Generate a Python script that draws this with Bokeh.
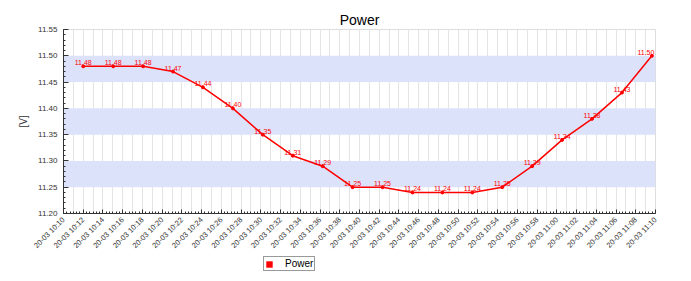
from datetime import datetime
import math
from bokeh.plotting import figure
from bokeh.layouts import column
from bokeh.models import (Range1d, FixedTicker, DatetimeTickFormatter, NumeralTickFormatter,
                          SingleIntervalTicker, ColumnDataSource, Legend, LegendItem,
                          BoxAnnotation, LabelSet)
from bokeh.core.properties import value
from bokeh.embed import file_html
from bokeh.resources import INLINE

# ---- data ----
times = ["10:12:00", "10:15:02", "10:18:04", "10:21:06", "10:24:08", "10:27:10",
         "10:30:12", "10:33:14", "10:36:16", "10:39:18", "10:42:20", "10:45:22",
         "10:48:24", "10:51:26", "10:54:28", "10:57:30", "11:00:32", "11:03:34",
         "11:06:36", "11:09:38"]
volts = [11.48, 11.48, 11.48, 11.47, 11.44, 11.40, 11.35, 11.31, 11.29, 11.25,
         11.25, 11.24, 11.24, 11.24, 11.25, 11.29, 11.34, 11.38, 11.43, 11.50]
tick_times = ["10:10", "10:12", "10:14", "10:16", "10:18", "10:20", "10:22", "10:24",
              "10:26", "10:28", "10:30", "10:32", "10:34", "10:36", "10:38", "10:40",
              "10:42", "10:44", "10:46", "10:48", "10:50", "10:52", "10:54", "10:56",
              "10:58", "11:00", "11:02", "11:04", "11:06", "11:08", "11:10"]
y_min, y_max = 11.20, 11.55
bands = [(11.25, 11.30), (11.35, 11.40), (11.45, 11.50)]
series_name = "Power"
title_text = "Power"
y_label = "[V]"

FONT = "Liberation Sans"
EPOCH = datetime(1970, 1, 1)


def to_dt(t):
    parts = [int(x) for x in t.split(":")]
    while len(parts) < 3:
        parts.append(0)
    return datetime(2020, 3, 20, parts[0], parts[1], parts[2])


def ms(d):
    return (d - EPOCH).total_seconds() * 1000.0


xs = [to_dt(t) for t in times]
major = [ms(to_dt(t)) for t in tick_times]
x0, x1 = major[0], major[-1]
minute_ticks = [x0 + i * 60000 for i in range(int((x1 - x0) / 60000) + 1)]
minor_ticks = [x0 + i * 20000 for i in range(int((x1 - x0) / 20000) + 1)]

p = figure(width=691, height=256, output_backend="svg", toolbar_location=None,
           x_axis_type="datetime",
           x_range=Range1d(x0, x1), y_range=Range1d(y_min, y_max),
           min_border_left=63, min_border_right=36, min_border_top=29,
           min_border_bottom=41)
p.title.text = title_text
p.title.align = "center"
p.title.text_font = FONT
p.title.text_font_size = "14px"
p.title.text_font_style = "normal"
p.title.text_color = "#000000"
p.title.standoff = 4
p.outline_line_color = "#dddddd"
p.background_fill_color = "white"
p.border_fill_color = "white"

for lo, hi in bands:
    p.add_layout(BoxAnnotation(bottom=lo, top=hi, fill_color="#dde2fb",
                               fill_alpha=1.0, line_color=None, level="underlay"))

# axes
xa = p.xaxis[0]
xa.ticker = FixedTicker(ticks=major, minor_ticks=minor_ticks)
fmt = "%d-%m %H:%M"
xa.formatter = DatetimeTickFormatter(seconds=fmt, minsec=fmt, minutes=fmt, hourmin=fmt,
                                     hours=fmt, days=fmt, months=fmt, years=fmt)
xa.major_label_orientation = math.pi / 4
xa.major_label_text_font = FONT
xa.major_label_text_font_size = "7.5px"
xa.major_label_text_color = "#333333"
xa.axis_line_color = "#333333"
xa.major_tick_line_color = "#333333"
xa.minor_tick_line_color = "#333333"
xa.major_tick_in = 4
xa.major_tick_out = 0
xa.minor_tick_in = 2
xa.minor_tick_out = 0
xa.major_label_standoff = 5

ya = p.yaxis[0]
ya.ticker = SingleIntervalTicker(interval=0.05, num_minor_ticks=5)
ya.formatter = NumeralTickFormatter(format="0.00")
ya.axis_label = y_label
ya.axis_label_text_font = FONT
ya.axis_label_text_font_size = "10px"
ya.axis_label_text_font_style = "normal"
ya.axis_label_text_color = "#333333"
ya.major_label_text_font = FONT
ya.major_label_text_font_size = "8px"
ya.major_label_text_color = "#333333"
ya.axis_line_color = "#333333"
ya.major_tick_line_color = "#333333"
ya.minor_tick_line_color = "#333333"
ya.major_tick_in = 5
ya.major_tick_out = 0
ya.minor_tick_in = 2
ya.minor_tick_out = 0
ya.major_label_standoff = 6
ya.axis_label_standoff = 6

p.xgrid.ticker = FixedTicker(ticks=minute_ticks)
p.xgrid.grid_line_color = "#e4e4e4"
p.xgrid.grid_line_width = 1
p.ygrid.grid_line_color = None

# label offsets keep the last label inside the plot frame
x_off = [0] * len(volts)
x_off[-1] = -6
src = ColumnDataSource(dict(x=xs, y=volts, lbl=[f"{v:.2f}" for v in volts], xo=x_off))
p.line("x", "y", source=src, line_color="#ff0000", line_width=1.5)
p.scatter("x", "y", source=src, size=3, color="#ff0000")

labels = LabelSet(x="x", y="y", text="lbl", source=src, y_offset=1, x_offset="xo",
                  text_align="center", text_baseline="bottom",
                  text_font=value(FONT), text_font_size="7px", text_color="#ff0000")
p.add_layout(labels)

# legend strip below the chart (its frame is aligned with the chart frame)
lf = figure(width=691, height=25, output_backend="svg", toolbar_location=None,
            x_range=Range1d(0, 1), y_range=Range1d(0, 1),
            x_axis_location=None, y_axis_location=None,
            min_border=0, min_border_left=0, min_border_right=0,
            min_border_top=0, min_border_bottom=0)
lf.outline_line_color = None
lf.grid.visible = False
lf.background_fill_color = "white"
lf.border_fill_color = "white"
# swatch renderer: zero-area quads from the series, far outside this strip's view
leg_src = ColumnDataSource(dict(left=[ms(d) for d in xs], right=[ms(d) for d in xs],
                                top=volts, bottom=volts))
leg_r = lf.quad(left="left", right="right", top="top", bottom="bottom", source=leg_src,
                fill_color="#ff0000", line_color=None)
legend = Legend(items=[LegendItem(label=series_name, renderers=[leg_r])],
                location=(200, 10), orientation="horizontal")
legend.border_line_color = "#333333"
legend.border_line_width = 1
legend.background_fill_color = "white"
legend.background_fill_alpha = 1.0
legend.label_text_font = FONT
legend.label_text_font_size = "10px"
legend.label_text_color = "#000000"
legend.glyph_width = 8
legend.glyph_height = 8
legend.label_standoff = 12
legend.padding = 1
legend.margin = 0
legend.spacing = 0
legend.label_height = 8
lf.add_layout(legend, "center")

layout = column(p, lf, spacing=0)
open("out.html", "w").write(file_html(layout, INLINE))
